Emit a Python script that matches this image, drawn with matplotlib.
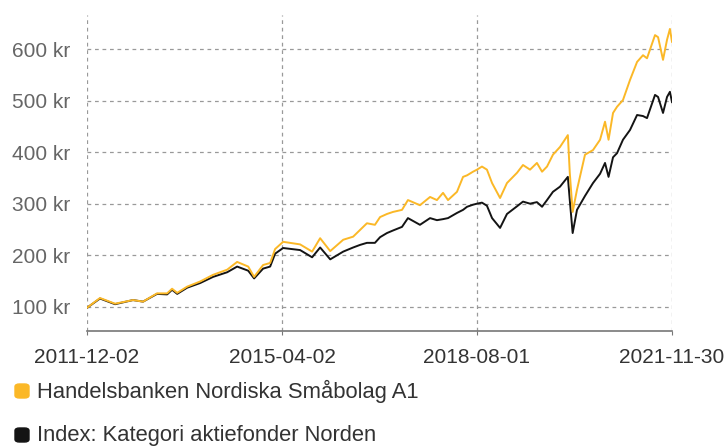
import matplotlib
matplotlib.use("Agg")
import matplotlib.pyplot as plt
import matplotlib.dates as mdates
from matplotlib.patches import FancyBboxPatch
import pandas as pd

# values (kr, start = 100)
dates = ["2011-12-02", "2012-02-21", "2012-05-25", "2012-09-14", "2012-11-16",
         "2013-02-11", "2013-04-15", "2013-05-16", "2013-06-17", "2013-08-18",
         "2013-11-07", "2014-01-27", "2014-04-25", "2014-06-26", "2014-09-03",
         "2014-10-10", "2014-12-05", "2015-01-18", "2015-02-18", "2015-04-09",
         "2015-07-24", "2015-10-07", "2015-11-26", "2016-01-28", "2016-04-18",
         "2016-06-19", "2016-08-01", "2016-09-13", "2016-11-02", "2016-12-04",
         "2017-01-16", "2017-02-23", "2017-04-20", "2017-05-27", "2017-08-10",
         "2017-10-12", "2017-11-24", "2018-01-01", "2018-02-01", "2018-03-29",
         "2018-05-06", "2018-05-31", "2018-07-07", "2018-08-01", "2018-09-01",
         "2018-10-02", "2018-11-03", "2018-12-23", "2019-02-04", "2019-04-08",
         "2019-05-15", "2019-06-28", "2019-08-10", "2019-09-11", "2019-10-12",
         "2019-11-18", "2020-01-01", "2020-02-19", "2020-03-02", "2020-03-20",
         "2020-04-16", "2020-06-05", "2020-07-25", "2020-09-07", "2020-10-08",
         "2020-10-30", "2020-11-27", "2020-12-22", "2021-01-28", "2021-03-13",
         "2021-04-26", "2021-06-02", "2021-06-27", "2021-08-16", "2021-09-04",
         "2021-10-05", "2021-10-30", "2021-11-17", "2021-11-30"]
fund = [98, 117, 106, 113, 110, 126, 126, 135, 127, 139,
        149, 162, 172, 187, 178, 158, 181, 185, 212, 226,
        221, 207, 233, 208, 230, 236, 249, 262, 259, 274,
        280, 284, 288, 307, 297, 313, 307, 321, 307, 323,
        352, 355, 362, 366, 372, 366, 340, 311, 340, 360,
        375, 366, 379, 362, 372, 395, 410, 433, 360, 284,
        327, 395, 404, 424, 459, 424, 476, 488, 501, 540,
        575, 588, 582, 627, 623, 579, 618, 639, 614]
index = [98, 116, 105, 113, 110, 125, 124, 133, 125, 137,
         146, 158, 167, 178, 170, 155, 174, 178, 203, 214,
         210, 196, 215, 192, 207, 215, 220, 224, 224, 235,
         243, 248, 255, 272, 259, 272, 268, 270, 272, 282,
         288, 294, 298, 300, 302, 296, 272, 253, 280, 295,
         304, 300, 303, 294, 307, 323, 333, 352, 307, 243,
         288, 315, 340, 358, 379, 352, 390, 398, 424, 443,
         472, 470, 466, 511, 507, 476, 507, 517, 497]
tick_dates = ["2011-12-02", "2015-04-02", "2018-08-01", "2021-11-30"]
y_ticks = [100, 200, 300, 400, 500, 600]
names = ["Handelsbanken Nordiska Småbolag A1", "Index: Kategori aktiefonder Norden"]
colors = ["#fbb827", "#141414"]

plt.rcParams['font.family'] = ['Liberation Sans', 'DejaVu Sans']

x = pd.to_datetime(dates)
W, H = 727, 446
fig = plt.figure(figsize=(W / 100, H / 100), dpi=100)
ax = fig.add_axes([87 / W, 1 - 331 / H, (672 - 87) / W, (331 - 15) / H])

ax.plot(x, index, color=colors[1], lw=1.4, zorder=3)
ax.plot(x, fund, color=colors[0], lw=1.4, zorder=4)

ax.set_xlim(pd.Timestamp(tick_dates[0]), pd.Timestamp(tick_dates[-1]))
ax.set_ylim(53, 666)
ax.set_xticks(pd.to_datetime(tick_dates))
ax.xaxis.set_major_formatter(mdates.DateFormatter("%Y-%m-%d"))
ax.set_yticks(y_ticks)
ax.set_yticklabels([f"{v} kr" for v in y_ticks])

for s in ["top", "right", "left"]:
    ax.spines[s].set_visible(False)
ax.spines["bottom"].set_color("#777777")
ax.spines["bottom"].set_linewidth(1.2)
ax.tick_params(axis="x", length=3, color="#777777", pad=9, labelsize=15, labelcolor="#333333")
ax.tick_params(axis="y", length=0, pad=12, labelsize=15, labelcolor="#666666")
ax.grid(True, color="#999999", lw=0.9, ls=(0, (3, 3)))

# legend drawn below the plot
for i, (name, c) in enumerate(zip(names, colors)):
    yc = 391 + i * 44
    fig.patches.append(FancyBboxPatch((15 / W, 1 - (yc + 7) / H), 14 / W, 14 / H,
                                      boxstyle="round,pad=0,rounding_size=0.006",
                                      transform=fig.transFigure, color=c))
    fig.text(37 / W, 1 - yc / H, name, fontsize=15.8, color="#333333", va="center", ha="left")

fig.savefig("out.png", dpi=100)
